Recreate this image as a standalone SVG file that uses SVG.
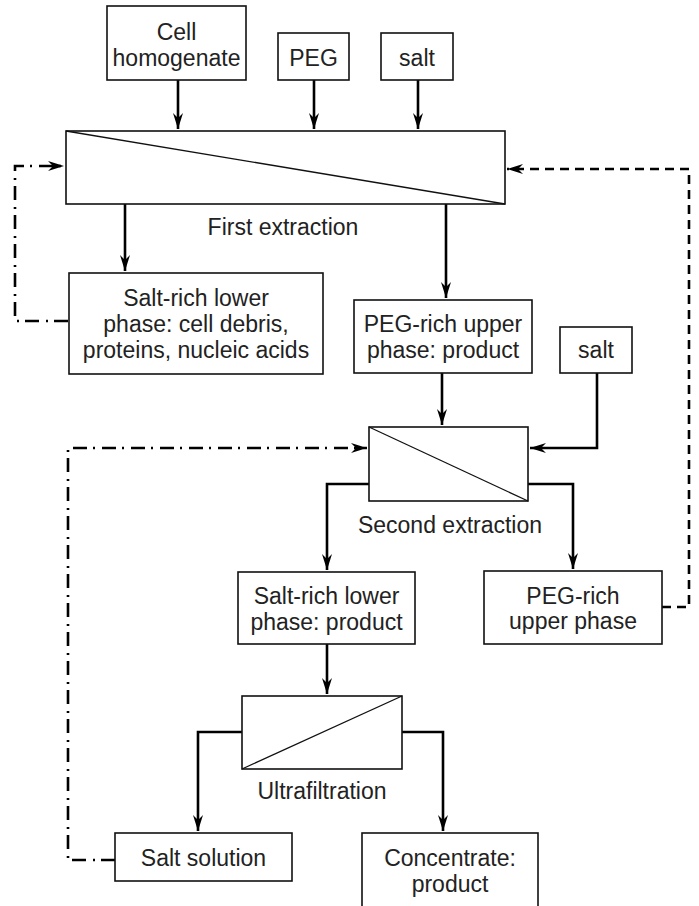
<svg xmlns="http://www.w3.org/2000/svg" width="699" height="906" viewBox="0 0 699 906">
<style>
.box{fill:#fff;stroke:#111;stroke-width:1.6}
.diag{stroke:#111;stroke-width:1.3;fill:none}
.t{font-family:"Liberation Sans",Arial,sans-serif;font-size:23px;fill:#222;text-anchor:middle}
.flow{fill:none;stroke:#000;stroke-width:2.6}
.dd{fill:none;stroke:#000;stroke-width:2.6;stroke-dasharray:14 6 2 7}
.dash{fill:none;stroke:#000;stroke-width:2.6;stroke-dasharray:9 6}
</style>
<defs>
<marker id="ah" markerUnits="userSpaceOnUse" markerWidth="20" markerHeight="14" viewBox="-16 -7 18 14" refX="0" refY="0" orient="auto">
<path d="M0,0 L-16,-5 L-11,0 L-16,5 Z" fill="#000"/>
</marker>
</defs>
<rect width="699" height="906" fill="#fff"/>

<g id="connectors">
<path class="flow" d="M178,80 V129" marker-end="url(#ah)"/>
<path class="flow" d="M314,80 V129" marker-end="url(#ah)"/>
<path class="flow" d="M418,80 V129" marker-end="url(#ah)"/>
<path class="flow" d="M125,204 V271" marker-end="url(#ah)"/>
<path class="flow" d="M446,204 V298" marker-end="url(#ah)"/>
<path class="dd" d="M68,321 H15 V166 H64" marker-end="url(#ah)"/>
<path class="dash" d="M662,607 H689 V169 H507" marker-end="url(#ah)"/>
<path class="flow" d="M442,373 V425" marker-end="url(#ah)"/>
<path class="flow" d="M597,373 V448 H530" marker-end="url(#ah)"/>
<path class="flow" d="M369,484 H327 V570" marker-end="url(#ah)"/>
<path class="flow" d="M528,484 H573 V569" marker-end="url(#ah)"/>
<path class="dd" d="M115,860 H68 V448 H367" marker-end="url(#ah)"/>
<path class="flow" d="M327,644 V694" marker-end="url(#ah)"/>
<path class="flow" d="M242,732 H198 V831" marker-end="url(#ah)"/>
<path class="flow" d="M402,732 H443 V831" marker-end="url(#ah)"/>
</g>

<g id="cell-homogenate">
<rect class="box" x="107" y="6" width="139" height="74"/>
<text class="t" x="176.5" y="39.5">Cell</text>
<text class="t" x="176.5" y="66">homogenate</text>
</g>
<g id="peg">
<rect class="box" x="278" y="33" width="71" height="47"/>
<text class="t" x="313.5" y="66">PEG</text>
</g>
<g id="salt1">
<rect class="box" x="381" y="33" width="72" height="47"/>
<text class="t" x="417" y="66">salt</text>
</g>
<g id="first-extraction">
<rect class="box" x="66" y="131" width="439" height="73"/>
<line class="diag" x1="66" y1="131" x2="505" y2="204"/>
<text class="t" x="283" y="235">First extraction</text>
</g>
<g id="salt-rich-lower-1">
<rect class="box" x="69" y="273" width="254" height="101"/>
<text class="t" x="196" y="305.5">Salt-rich lower</text>
<text class="t" x="196" y="331.5">phase: cell debris,</text>
<text class="t" x="196" y="357.5">proteins, nucleic acids</text>
</g>
<g id="peg-rich-upper-1">
<rect class="box" x="354" y="300" width="178" height="73"/>
<text class="t" x="443" y="331.5">PEG-rich upper</text>
<text class="t" x="443" y="357.5">phase: product</text>
</g>
<g id="salt2">
<rect class="box" x="560" y="327" width="72" height="46"/>
<text class="t" x="596" y="357.5">salt</text>
</g>
<g id="second-extraction">
<rect class="box" x="369" y="427" width="159" height="74"/>
<line class="diag" x1="369" y1="427" x2="528" y2="501"/>
<text class="t" x="450" y="533">Second extraction</text>
</g>
<g id="salt-rich-lower-2">
<rect class="box" x="238" y="572" width="177" height="72"/>
<text class="t" x="326.5" y="604">Salt-rich lower</text>
<text class="t" x="326.5" y="630">phase: product</text>
</g>
<g id="peg-rich-upper-2">
<rect class="box" x="484" y="571" width="178" height="73"/>
<text class="t" x="573" y="604">PEG-rich</text>
<text class="t" x="573" y="629">upper phase</text>
</g>
<g id="ultrafiltration">
<rect class="box" x="242" y="696" width="160" height="73"/>
<line class="diag" x1="242" y1="769" x2="402" y2="696"/>
<text class="t" x="322" y="799">Ultrafiltration</text>
</g>
<g id="salt-solution">
<rect class="box" x="115" y="833" width="177" height="48"/>
<text class="t" x="203.5" y="866">Salt solution</text>
</g>
<g id="concentrate">
<rect class="box" x="362" y="833" width="176" height="90"/>
<text class="t" x="450" y="865.5">Concentrate:</text>
<text class="t" x="450" y="891.5">product</text>
</g>
</svg>
